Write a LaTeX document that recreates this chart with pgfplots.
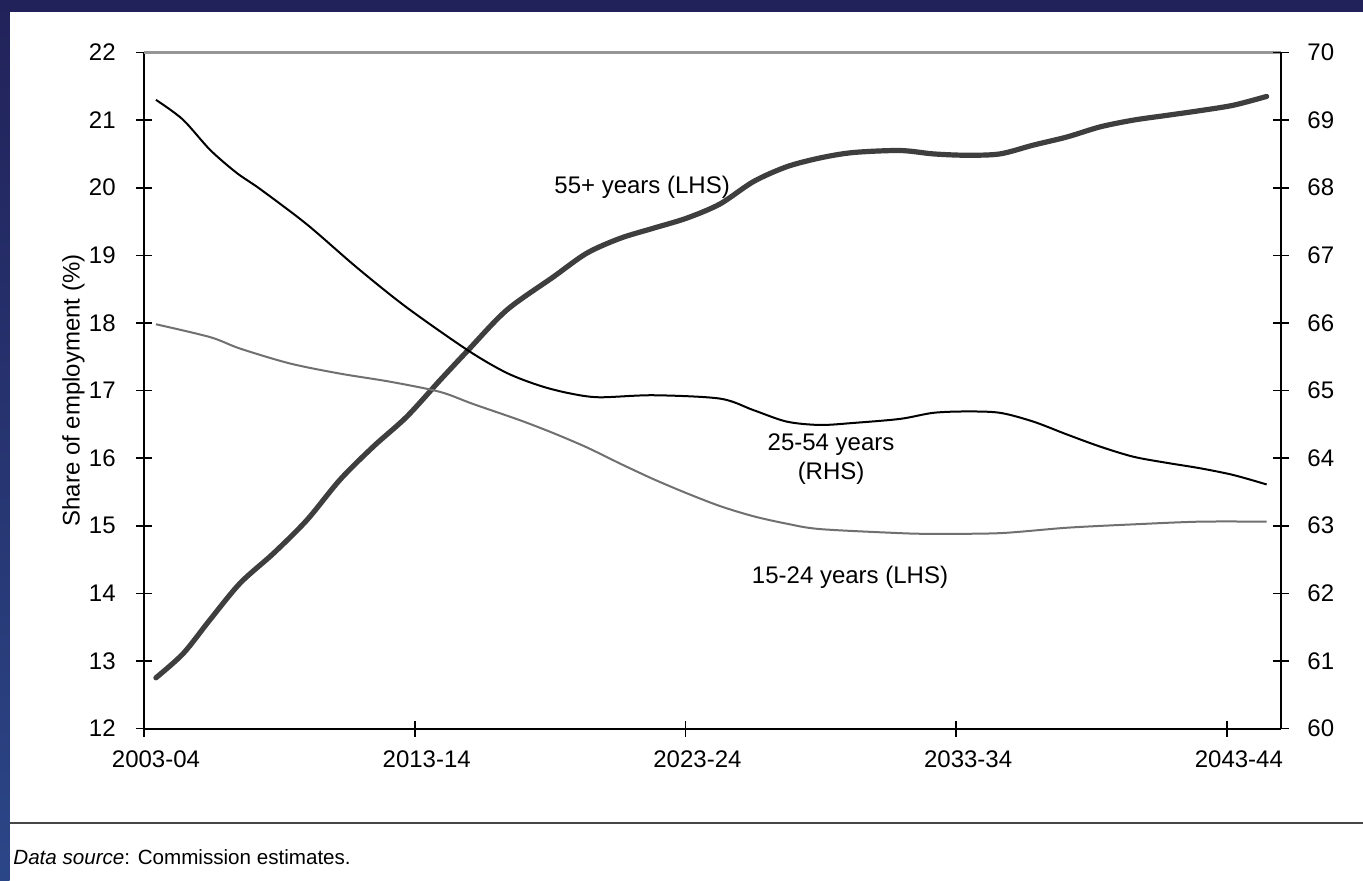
\documentclass[border=0pt,12pt]{standalone}
\usepackage{fontspec}
\setmainfont{Liberation Sans}
\usepackage{pgfplots}
\pgfplotsset{compat=1.18}

\definecolor{navy}{RGB}{34,34,90}
\definecolor{navyb}{RGB}{43,70,135}
\definecolor{thickgray}{RGB}{62,62,62}
\definecolor{midgray}{RGB}{112,112,112}
\definecolor{topgray}{RGB}{150,150,150}

\begin{document}
\begin{tikzpicture}
\path[use as bounding box, fill=white] (0,0) rectangle (681.5pt,440pt);
\fill[navy] (0,434pt) rectangle (681.5pt,440pt);
\shade[top color=navy, bottom color=navyb] (0,0) rectangle (4.8pt,440pt);
\draw[line width=1pt, color={rgb,255:red,70;green,70;blue,70}] (4.8pt,28.65pt) -- (681.5pt,28.65pt);
\node[anchor=west, inner sep=0pt, font=\fontsize{10.3}{12}\selectfont] at (6.5pt,11.5pt) {\textit{Data source}: Commission estimates.};

\begin{axis}[
  at={(72pt,75.75pt)}, anchor=south west,
  scale only axis, width=568.5pt, height=338pt,
  xmin=0, xmax=42, ymin=12, ymax=22,
  axis x line*=bottom, axis y line*=left,
  axis line style={line width=1pt, black},
  xtick={0,10,20,30,40},
  xticklabels={2003-04,2013-14,2023-24,2033-34,2043-44},
  ytick={12,13,...,22},
  tick align=center,
  major tick length=8pt,
  tick style={line width=0.8pt, black},
  /pgf/number format/assume math mode=true,
  xticklabel style={xshift=6pt, yshift=-3pt},
  yticklabel style={xshift=-6pt},
  ylabel={Share of employment (\%)},
  ylabel style={at={(axis description cs:-0.062,0.5)}, anchor=center},
  clip=false,
]
\draw[topgray, line width=1.4pt] (rel axis cs:0,1) -- (rel axis cs:1,1);
% 55+ years (LHS)
\addplot[thickgray, line width=2.6pt, smooth, line cap=round] coordinates {
(0.44,12.75) (1.45,13.11) (2.44,13.61) (3.55,14.15) (4.78,14.59) (6.01,15.08)
(7.24,15.68) (8.47,16.17) (9.70,16.61) (10.93,17.15) (11.98,17.60) (13.40,18.19)
(15.12,18.68) (16.35,19.03) (17.58,19.25) (18.81,19.40) (20.05,19.55)
(21.28,19.76) (22.51,20.09) (23.74,20.31) (24.97,20.44) (26.19,20.52) (27.93,20.55)
(29.16,20.50) (30.39,20.48) (31.62,20.50) (32.85,20.63) (34.09,20.75) (35.32,20.90)
(36.55,21.00) (37.78,21.07) (39.01,21.14) (40.24,21.22) (41.47,21.35)
};
% 15-24 years (LHS)
\addplot[midgray, line width=1pt, smooth] coordinates {
(0.44,17.98) (2.44,17.79) (3.55,17.62) (5.39,17.40) (7.24,17.25) (9.09,17.13)
(10.93,16.98) (12.16,16.80) (13.89,16.56) (15.12,16.37) (16.35,16.16) (17.58,15.92)
(18.81,15.69) (20.05,15.48) (21.28,15.29) (22.51,15.14) (23.74,15.03) (24.97,14.95)
(27.93,14.89) (29.16,14.88) (31.62,14.89) (34.09,14.97) (36.55,15.02) (39.01,15.06)
(41.47,15.06)
};
\node[font=\normalsize] at (axis cs:18.40,20.01) {55+ years (LHS)};
\node[font=\normalsize, align=center] at (axis cs:25.38,15.99) {25-54 years\\(RHS)};
\node[font=\normalsize] at (axis cs:26.08,14.24) {15-24 years (LHS)};
\end{axis}

\begin{axis}[
  at={(72pt,75.75pt)}, anchor=south west,
  scale only axis, width=568.5pt, height=338pt,
  xmin=0, xmax=42, ymin=60, ymax=70,
  axis x line=none, axis y line*=right,
  axis line style={line width=1pt, black},
  ytick={60,61,...,70},
  tick align=center,
  major tick length=8pt,
  tick style={line width=0.8pt, black},
  /pgf/number format/assume math mode=true,
  yticklabel style={xshift=5pt},
]
% 25-54 years (RHS)
\addplot[black, line width=1pt, smooth] coordinates {
(0.44,69.30) (1.43,69.01) (2.44,68.56) (3.42,68.22) (4.29,67.98) (6.01,67.46)
(7.86,66.82) (9.70,66.23) (11.98,65.59) (13.40,65.26) (14.63,65.07) (15.70,64.96)
(16.80,64.90) (18.81,64.93) (21.28,64.88) (22.51,64.71) (23.74,64.54) (24.97,64.49)
(26.20,64.52) (27.93,64.58) (29.16,64.67) (30.39,64.69) (31.62,64.67) (32.85,64.54)
(34.09,64.35) (35.32,64.17) (36.55,64.02) (37.78,63.93) (39.01,63.85) (40.24,63.75)
(41.47,63.61)
};
\end{axis}
\end{tikzpicture}
\end{document}
